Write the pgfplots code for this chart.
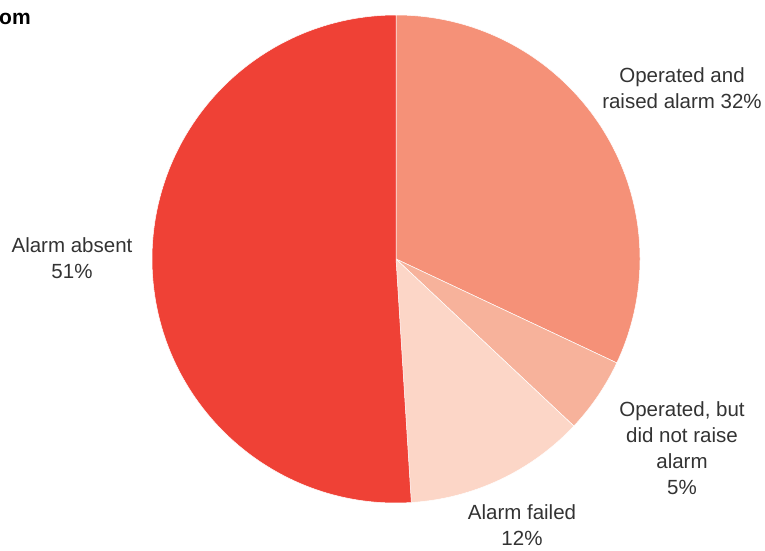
\documentclass[border=0pt]{standalone}
\usepackage{fontspec}
\setmainfont{Liberation Sans}
\usepackage{pgfplots}
\pgfplotsset{compat=1.18}
\definecolor{cAbsent}{HTML}{EF4136}
\definecolor{cRaised}{HTML}{F59178}
\definecolor{cNoRaise}{HTML}{F7B29B}
\definecolor{cFailed}{HTML}{FCD6C7}
\definecolor{txt}{HTML}{333333}
% shares in percent
\def\pRaised{32}
\def\pNoRaise{5}
\def\pFailed{12}
\def\pAbsent{51}
\pgfmathsetmacro{\aStart}{90}
\pgfmathsetmacro{\aRaised}{\aStart-\pRaised*3.6}
\pgfmathsetmacro{\aNoRaise}{\aRaised-\pNoRaise*3.6}
\pgfmathsetmacro{\aFailed}{\aNoRaise-\pFailed*3.6}
\pgfmathsetmacro{\aAbsent}{\aFailed-\pAbsent*3.6}
\begin{document}
\begin{tikzpicture}[x=1pt,y=1pt]
\path[use as bounding box] (0,0) rectangle (765,550);
\begin{axis}[
  at={(396pt,291pt)}, anchor=center,
  width=488pt, height=488pt, scale only axis,
  xmin=-1, xmax=1, ymin=-1, ymax=1,
  hide axis, clip=false]
\addplot[fill=cRaised, draw=white, line width=0.5pt, data cs=polar]
  coordinates {(0,0) (\aStart,1)} arc[start angle=\aStart, end angle=\aRaised, radius=244pt] -- cycle;
\addplot[fill=cNoRaise, draw=white, line width=0.5pt, data cs=polar]
  coordinates {(0,0) (\aRaised,1)} arc[start angle=\aRaised, end angle=\aNoRaise, radius=244pt] -- cycle;
\addplot[fill=cFailed, draw=white, line width=0.5pt, data cs=polar]
  coordinates {(0,0) (\aNoRaise,1)} arc[start angle=\aNoRaise, end angle=\aFailed, radius=244pt] -- cycle;
\addplot[fill=cAbsent, draw=white, line width=0.5pt, data cs=polar]
  coordinates {(0,0) (\aFailed,1)} arc[start angle=\aFailed, end angle=\aAbsent, radius=244pt] -- cycle;
\end{axis}
\begin{scope}[every node/.style={inner sep=0pt, align=center, text=txt, font=\fontsize{20.5}{26}\selectfont}]
\node at (682,462) {Operated and\\raised alarm 32\%};
\node at (72,292) {Alarm absent\\51\%};
\node at (682,102) {Operated, but\\did not raise\\alarm\\5\%};
\node at (522,24.5) {Alarm failed\\12\%};
\end{scope}
\node[inner sep=0pt, anchor=base west, font=\fontsize{21}{24}\selectfont\bfseries] at (-1,525) {om};
\end{tikzpicture}
\end{document}
